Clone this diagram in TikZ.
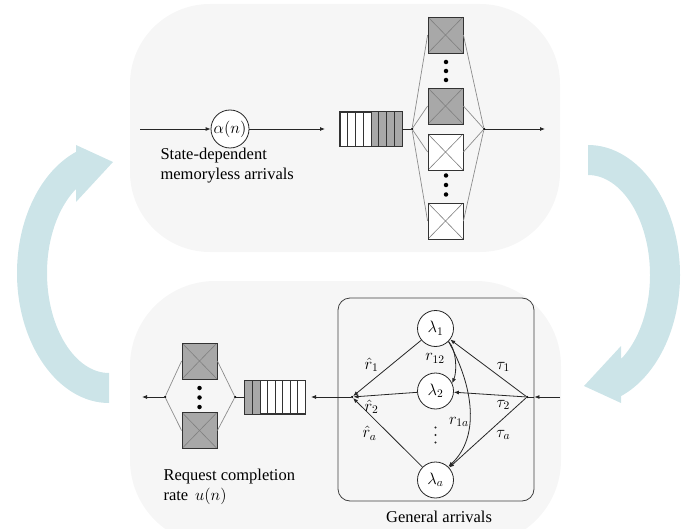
\RequirePackage{fix-cm}
\documentclass[tikz,border=0pt]{standalone}
\usepackage[no-math]{fontspec}
\setmainfont{Liberation Serif}
\usepackage{amsmath}
\usetikzlibrary{arrows.meta}

\definecolor{panelgray}{RGB}{246,246,246}
\definecolor{loopcyan}{RGB}{204,228,232}
\definecolor{boxgray}{RGB}{168,168,168}

\tikzset{
  server/.style={draw=black!80, line width=0.8pt, minimum width=35pt, minimum height=36pt, inner sep=0pt,
    path picture={\draw[black!50, line width=0.6pt]
      (path picture bounding box.north west) -- (path picture bounding box.south east)
      (path picture bounding box.north east) -- (path picture bounding box.south west);}},
  busy/.style={server, fill=boxgray},
  idle/.style={server, fill=white},
  queue/.style={draw=black!80, fill=white, line width=0.8pt, inner sep=0pt},
  cell/.style={black!80, line width=0.8pt},
  station/.style={circle, draw=black!85, fill=white, line width=0.8pt, minimum size=36pt, inner sep=0pt},
  link/.style={black!85, line width=0.8pt},
  flow/.style={link, -{Latex[length=5pt,width=4pt]}},
  fan/.style={black!45, line width=0.7pt},
  bigdot/.style={circle, fill=black, inner sep=0pt, minimum size=4.5pt},
  smalldot/.style={circle, fill=black!85, inner sep=0pt, minimum size=2.4pt},
  joint/.style={circle, fill=black, inner sep=0pt, minimum size=2.5pt},
  rate/.style={inner sep=0.5pt}
}

\begin{document}
\begin{tikzpicture}[x=1pt,y=-1pt,font=\fontsize{16.5}{20}\selectfont]
    \clip (0,0) rectangle (698,529);

    \foreach \ang in {0,180} \fill[loopcyan, rotate around={\ang:(348.5,274)}]
    (109,403) .. controls (58.6,403) and (17,344.8) .. (17,273)
    .. controls (17,219.5) and (40.4,171.4) .. (76,151.9) -- (76,145) -- (113,162)
    -- (76,202) -- (76,189) .. controls (58,207.4) and (47,239) .. (47,273)
    .. controls (47,328.2) and (75.2,373) .. (109,373) -- cycle;

    \fill[panelgray, rounded corners=80pt] (130,4) rectangle (560,252);
    \fill[panelgray, rounded corners=85pt] (130,281) rectangle (561,545);

    \coordinate (in1) at (140,129); \coordinate (qin1) at (325,129);
    \coordinate (out1) at (545,129);
    \node[station, minimum size=38pt] (alpha) at (230,129) {$\alpha(n)$};
    \draw[flow] (in1) -- (alpha); \draw[flow] (alpha) -- (qin1);
    \node[align=left, anchor=west] (lab1) at (157,165.5)
    {State-dependent\\memoryless arrivals};

    \node[queue, minimum width=62pt, minimum height=34pt] (q1) at (371,129) {};
    \fill[boxgray] (q1.north) rectangle (q1.south east);
    \foreach \i in {1,...,7} \draw[cell] (\i*7.75+340,112) -- (\i*7.75+340,146);
    \draw[cell] (q1.north west) rectangle (q1.south east);

    \node[joint] (j1) at (412,129) {}; \node[joint] (j2) at (484,129) {};
    \foreach \n/\y/\s in {1/35/busy,2/106/busy,3/152/idle,4/221/idle}
    \node[\s] (s\n) at (445.5,\y) {};
    \foreach \n in {1,...,4} \draw[fan] (j1) -- (s\n.west) (s\n.east) -- (j2);
    \foreach \y [count=\k] in {62,71,80,175.5,185,194.5} \node[bigdot] (dot\k) at (446,\y) {};
    \draw[link] (q1) -- (j1); \draw[flow] (j2) -- (out1);

    \node[draw=black!75, line width=0.8pt, rounded corners=12pt, minimum width=196pt,
    minimum height=203pt] (ga) at (436,399.5) {};
    \node (galab) at (439,517) {General arrivals};
    \node[station] (l1) at (435.5,328.5) {$\lambda_1$};
    \node[station] (l2) at (435.5,391) {$\lambda_2$};
    \node[station] (la) at (435.5,480) {$\lambda_a$};
    \foreach \y [count=\k] in {427.5,435,442.5} \node[smalldot] (vdot\k) at (435.5,\y) {};
    \node[joint] (j3) at (352,397) {}; \node[joint] (j4) at (527,397) {};
    \foreach \n in {l1,l2,la} \draw[flow] (\n) -- (j3);
    \foreach \n in {l1,l2,la} \draw[flow] (j4) -- (\n);
    \draw[flow] (l1.-45) .. controls +(8,8) and +(5,-12) .. (l2.25);
    \draw[flow] (l1.-45) .. controls +(25,45) and +(32,-30) .. (la.46);

    \node[rate] (rh1) at (371.5,365) {$\hat r_1$};
    \node[rate] (rh2) at (371.5,406.7) {$\hat r_2$};
    \node[rate] (rha) at (369.5,433.3) {$\hat r_a$};
    \node[rate] (r12) at (435,358.3) {$r_{12}$};
    \node[rate] (r1a) at (459,421.7) {$r_{1a}$};
    \node[rate] (t1) at (503.3,366.7) {$\tau_1$};
    \node[rate] (t2) at (503.3,405) {$\tau_2$};
    \node[rate] (ta) at (503.3,435) {$\tau_a$};

    \coordinate (in2) at (560,397); \coordinate (qin2) at (311,397);
    \coordinate (out2) at (142,397);
    \draw[flow] (in2) -- (ga.east |- j4); \draw[link] (ga.east |- j4) -- (j4);
    \draw[flow] (j3) -- (qin2);

    \node[queue, minimum width=60pt, minimum height=33pt] (q2) at (275,397) {};
    \fill[boxgray] (q2.north west) rectangle (260,413.5);
    \foreach \i in {1,...,7} \draw[cell] (\i*7.5+245,380.5) -- (\i*7.5+245,413.5);
    \draw[cell] (q2.north west) rectangle (q2.south east);

    \node[busy] (s5) at (199.5,361) {}; \node[busy] (s6) at (199.5,430.5) {};
    \node[joint] (j5) at (235,397) {}; \node[joint] (j6) at (165,397) {};
    \foreach \n in {5,6} \draw[fan] (j5) -- (s\n.east) (s\n.west) -- (j6);
    \foreach \y [count=\k] in {388,397.5,407} \node[bigdot] (bdot\k) at (199.5,\y) {};
    \draw[link] (q2) -- (j5); \draw[flow] (j6) -- (out2);
    \node[align=left, anchor=west] (lab2) at (160,486.5) {Request completion\\rate $\,u(n)$};
  \end{tikzpicture}
\end{document}
